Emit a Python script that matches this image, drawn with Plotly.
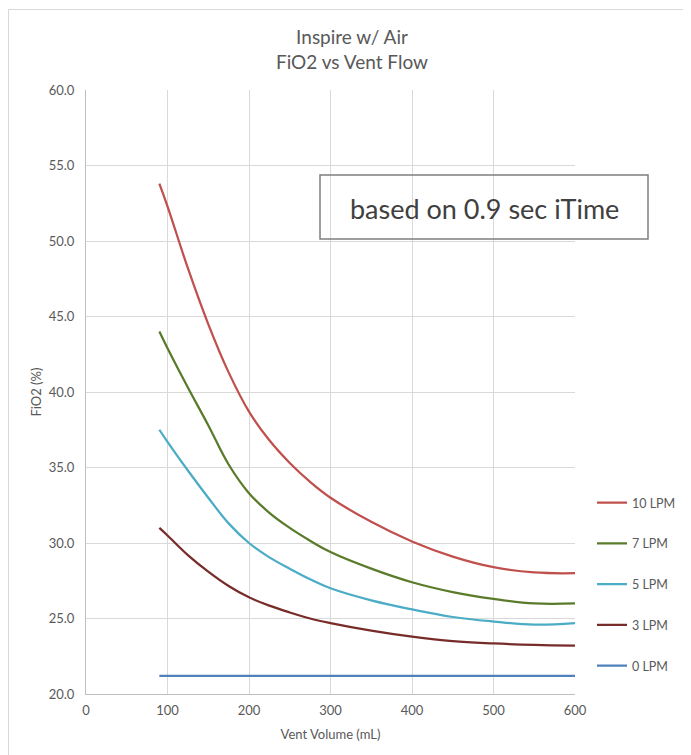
import plotly.graph_objects as go

vent_volume = [90, 100, 125, 150, 175, 200, 225, 250, 275, 300, 350, 400, 450, 500, 550, 600]
lpm_10 = [53.8, 52.3, 48.2, 44.5, 41.3, 38.7, 36.8, 35.3, 34.05, 33.0, 31.4, 30.1, 29.1, 28.4, 28.05, 28.0]
lpm_7 = [44.0, 42.9, 40.3, 37.8, 35.2, 33.3, 32.0, 31.0, 30.15, 29.4, 28.3, 27.4, 26.75, 26.3, 26.0, 26.0]
lpm_5 = [37.5, 36.7, 34.8, 33.0, 31.3, 30.0, 29.05, 28.3, 27.6, 27.0, 26.2, 25.6, 25.1, 24.8, 24.6, 24.7]
lpm_3 = [31.0, 30.5, 29.2, 28.1, 27.15, 26.4, 25.85, 25.4, 25.0, 24.7, 24.2, 23.8, 23.5, 23.35, 23.25, 23.2]
lpm_0 = [21.2] * len(vent_volume)

series = [
    ("10 LPM", lpm_10, "#C0504D"),
    ("7 LPM", lpm_7, "#5A7B2A"),
    ("5 LPM", lpm_5, "#4BACC6"),
    ("3 LPM", lpm_3, "#772C2A"),
    ("0 LPM", lpm_0, "#4F81BD"),
]

x_ticks = [0, 100, 200, 300, 400, 500, 600]
y_ticks = [20, 25, 30, 35, 40, 45, 50, 55, 60]

FONT = "Lato, 'Open Sans', sans-serif"
GRAY = "#595959"

fig = go.Figure()
for i, (name, vals, color) in enumerate(series):
    fig.add_trace(go.Scatter(
        x=vent_volume, y=vals, name=name, mode="lines",
        line=dict(color=color, width=2.25, shape="spline", smoothing=1.1),
        legendgroup=f"g{i}",
    ))

OFF = 8  # page body margin
W, H = 691, 755
# plot area in page coordinates: x 86..575, y 90..694
L = 86 - OFF
T = 90 - OFF
R = W - (575 - OFF)
B = H - (694 - OFF)
pw, ph = W - L - R, H - T - B

def px_x(p):  # page x -> paper
    return (p - OFF - L) / pw

def px_y(p):  # page y -> paper
    return (H - B - (p - OFF)) / ph

fig.update_layout(
    width=W, height=H,
    margin=dict(l=L, r=R, t=T, b=B, pad=0),
    paper_bgcolor="white", plot_bgcolor="white",
    font=dict(family=FONT, color=GRAY, size=13),
    title=dict(
        text="Inspire w/ Air<br>FiO2 vs Vent Flow",
        x=(352 - OFF) / W, xanchor="center", y=1 - 36 / H, yanchor="middle",
        font=dict(family=FONT, size=19, color=GRAY),
    ),
    xaxis=dict(
        range=[0, 600], tickvals=x_ticks, ticktext=[str(v) for v in x_ticks],
        showgrid=True, gridcolor="#D9D9D9", gridwidth=1,
        showline=True, linecolor="#BFBFBF", linewidth=1,
        zeroline=False, ticks="outside", ticklen=4, tickcolor="rgba(0,0,0,0)",
        tickfont=dict(size=13, color=GRAY),
        title=dict(text="Vent Volume (mL)", font=dict(size=13, color=GRAY), standoff=13),
        fixedrange=True,
    ),
    yaxis=dict(
        range=[20, 60], tickvals=y_ticks, ticktext=[f"{v:.1f}" for v in y_ticks],
        showgrid=True, gridcolor="#D9D9D9", gridwidth=1,
        showline=True, linecolor="#BFBFBF", linewidth=1,
        zeroline=False, ticks="outside", ticklen=8, tickcolor="rgba(0,0,0,0)",
        tickfont=dict(size=13, color=GRAY),
        title=dict(text="FiO2 (%)", font=dict(size=13, color=GRAY), standoff=4),
        fixedrange=True,
    ),
    legend=dict(
        x=px_x(592), xanchor="left", y=px_y(488), yanchor="top",
        traceorder="grouped", tracegroupgap=21.5,
        font=dict(size=12.5, color=GRAY),
        bgcolor="rgba(0,0,0,0)", borderwidth=0,
        itemwidth=30,
    ),
    showlegend=True,
)

# annotation box
fig.add_shape(type="rect", xref="paper", yref="paper",
              x0=px_x(320), x1=px_x(648), y0=px_y(239), y1=px_y(175),
              line=dict(color="#7F7F7F", width=1.5), fillcolor="rgba(255,255,255,0)")
fig.add_annotation(text="based on 0.9 sec iTime", xref="paper", yref="paper",
                   x=px_x(484), y=px_y(208), xanchor="center", yanchor="middle",
                   showarrow=False, font=dict(family=FONT, size=27, color="#404040"))

# chart frame
fig.add_shape(type="line", xref="paper", yref="paper",
              x0=px_x(8.5), x1=px_x(W + 20), y0=px_y(9.5), y1=px_y(9.5),
              line=dict(color="#D9D9D9", width=1.2))
fig.add_shape(type="line", xref="paper", yref="paper",
              x0=px_x(8.5), x1=px_x(8.5), y0=px_y(9.5), y1=px_y(H + 20),
              line=dict(color="#D9D9D9", width=1.2))

fig.write_html("out.html")
